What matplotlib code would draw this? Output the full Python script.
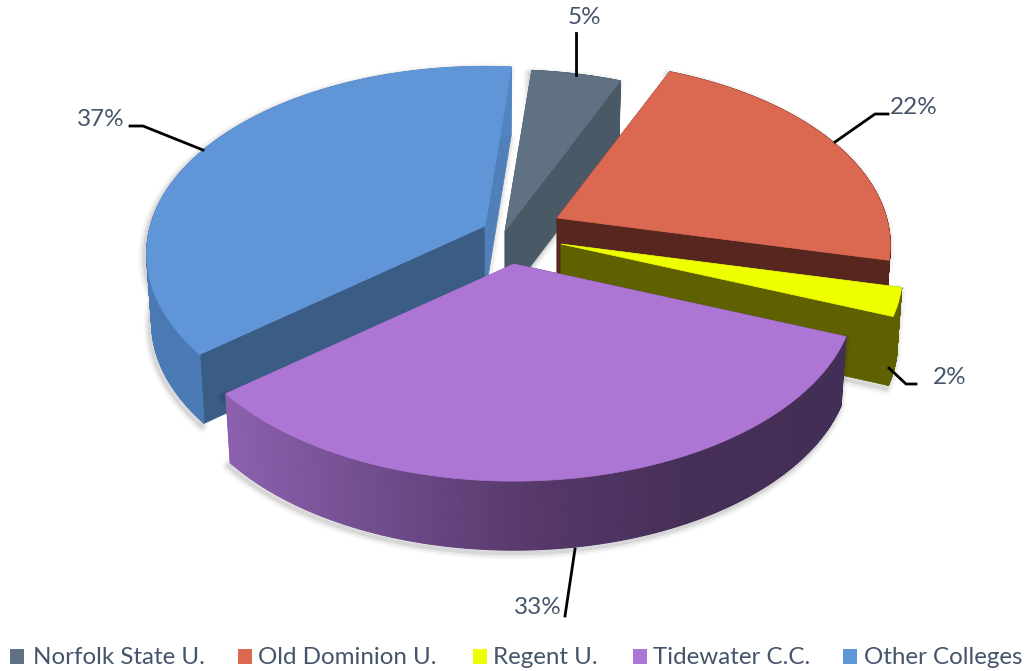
import numpy as np
import matplotlib
matplotlib.use('Agg')
import matplotlib.pyplot as plt
from matplotlib.colors import to_rgb
from matplotlib.patches import Polygon, Rectangle

# data
colleges = ['Norfolk State U.', 'Old Dominion U.', 'Regent U.', 'Tidewater C.C.', 'Other Colleges']
shares = [4.9, 22.3, 2.4, 33.0, 37.4]

# styling, one entry per slice
topColors = ['#5F7183', '#DB6850', '#EEFF00', '#AD76D5', '#6096D8']
startFace = ['#4A5966', '#57261F', '#5F6000', '#432E55', '#3A5C85']
endFace = ['#4A5966', '#57261F', '#5F6000', '#8C60AE', '#4F80BA']
outerStops = [['#4A5966'], ['#57261F'], ['#5F6000'],
              ['#8C60AE', '#6F4C8B', '#56386A', '#452F57', '#432E55'],
              ['#4A79B3', '#5285C2']]
apexes = [(505, 231), (557, 218), (561, 244), (514, 264), (485, 226)]
radiusScale = [1.0, 0.975, 1.0, 1.0, 0.99]
drawOrder = [0, 4, 1, 2, 3]

startAngle = 5.2
rx, ry, persp = 338.0, 185.0, 0.148
depth = 69.0
shrink = 0.985
textColor = '#44546A'

# label text position, leader line points
labelPos = [(584, 17), (914, 108), (950, 377), (538, 607), (101, 119)]
leaders = [[(576, 33), (576, 75)],
           [(888, 114), (875, 114), (835, 142)],
           [(916, 384), (906, 384), (889, 368)],
           [(565, 616), (575, 549)],
           [(130, 126), (143, 126), (203, 150)]]
legendBox = [10, 238, 473, 633, 843]
legendText = [33, 258, 493, 653, 864]

plt.rcParams['font.family'] = ['Lato', 'DejaVu Sans']

fig = plt.figure(figsize=(10.31, 6.71), dpi=100)
ax = fig.add_axes([0, 0, 1, 1])
ax.set_xlim(0, 1031)
ax.set_ylim(671, 0)
ax.axis('off')


def top_point(apex, deg, scale):
    # deg runs clockwise from the back of the pie
    a = np.radians(deg)
    x, y = np.sin(a), np.cos(a)
    p = scale / (1 + persp * y)
    return apex[0] + rx * x * p, apex[1] - ry * y * p


def bottom_point(apex, pt):
    return apex[0] + (pt[0] - apex[0]) * shrink, pt[1] + depth


def stop_color(stops, f):
    if len(stops) == 1:
        return to_rgb(stops[0])
    pos = f * (len(stops) - 1)
    i = min(int(pos), len(stops) - 2)
    c0, c1 = np.array(to_rgb(stops[i])), np.array(to_rgb(stops[i + 1]))
    return tuple(c0 + (c1 - c0) * (pos - i))


edges = np.cumsum([0] + shares) / sum(shares) * 360 + startAngle

for i in drawOrder:
    apex = apexes[i]
    angles = np.linspace(edges[i], edges[i + 1], 300)
    rim = [top_point(apex, a, radiusScale[i]) for a in angles]
    low = [bottom_point(apex, p) for p in rim]
    apexLow = (apex[0], apex[1] + depth)

    # soft drop shadow round the whole body
    for lw, alpha in [(9, 0.03), (6, 0.05), (3, 0.08)]:
        ax.add_patch(Polygon([(x - 2, y + 3) for x, y in low + [apexLow]] + [(x - 2, y + 3) for x, y in rim[::-1]],
                             closed=True, fill=False, ec=(0, 0, 0, alpha), lw=lw, joinstyle='round'))

    # the two cut faces
    ax.add_patch(Polygon([rim[0], low[0], apexLow, apex], closed=True, fc=startFace[i], ec=startFace[i], lw=0.5))
    ax.add_patch(Polygon([rim[-1], low[-1], apexLow, apex], closed=True, fc=endFace[i], ec=endFace[i], lw=0.5))

    # outer wall, shaded by screen x
    xs = [p[0] for p in rim]
    for j in range(len(rim) - 1):
        f = ((xs[j] + xs[j + 1]) / 2 - min(xs)) / (max(xs) - min(xs))
        c = stop_color(outerStops[i], f)
        ax.add_patch(Polygon([rim[j], rim[j + 1], low[j + 1], low[j]], closed=True, fc=c, ec=c, lw=0.8))

    # top face
    ax.add_patch(Polygon([apex] + rim, closed=True, fc=topColors[i], ec=topColors[i], lw=0.5))

for i, share in enumerate(shares):
    xs, ys = zip(*leaders[i])
    ax.plot(xs, ys, color='black', lw=2, solid_joinstyle='miter')
    ax.text(labelPos[i][0], labelPos[i][1], f'{round(share)}%', color=textColor, fontsize=17.5,
            ha='center', va='center')
    ax.add_patch(Rectangle((legendBox[i], 649), 14, 15, fc=topColors[i], ec='none'))
    ax.text(legendText[i], 658, colleges[i], color=textColor, fontsize=17.4, ha='left', va='center')

plt.savefig('out.png', dpi=100)
